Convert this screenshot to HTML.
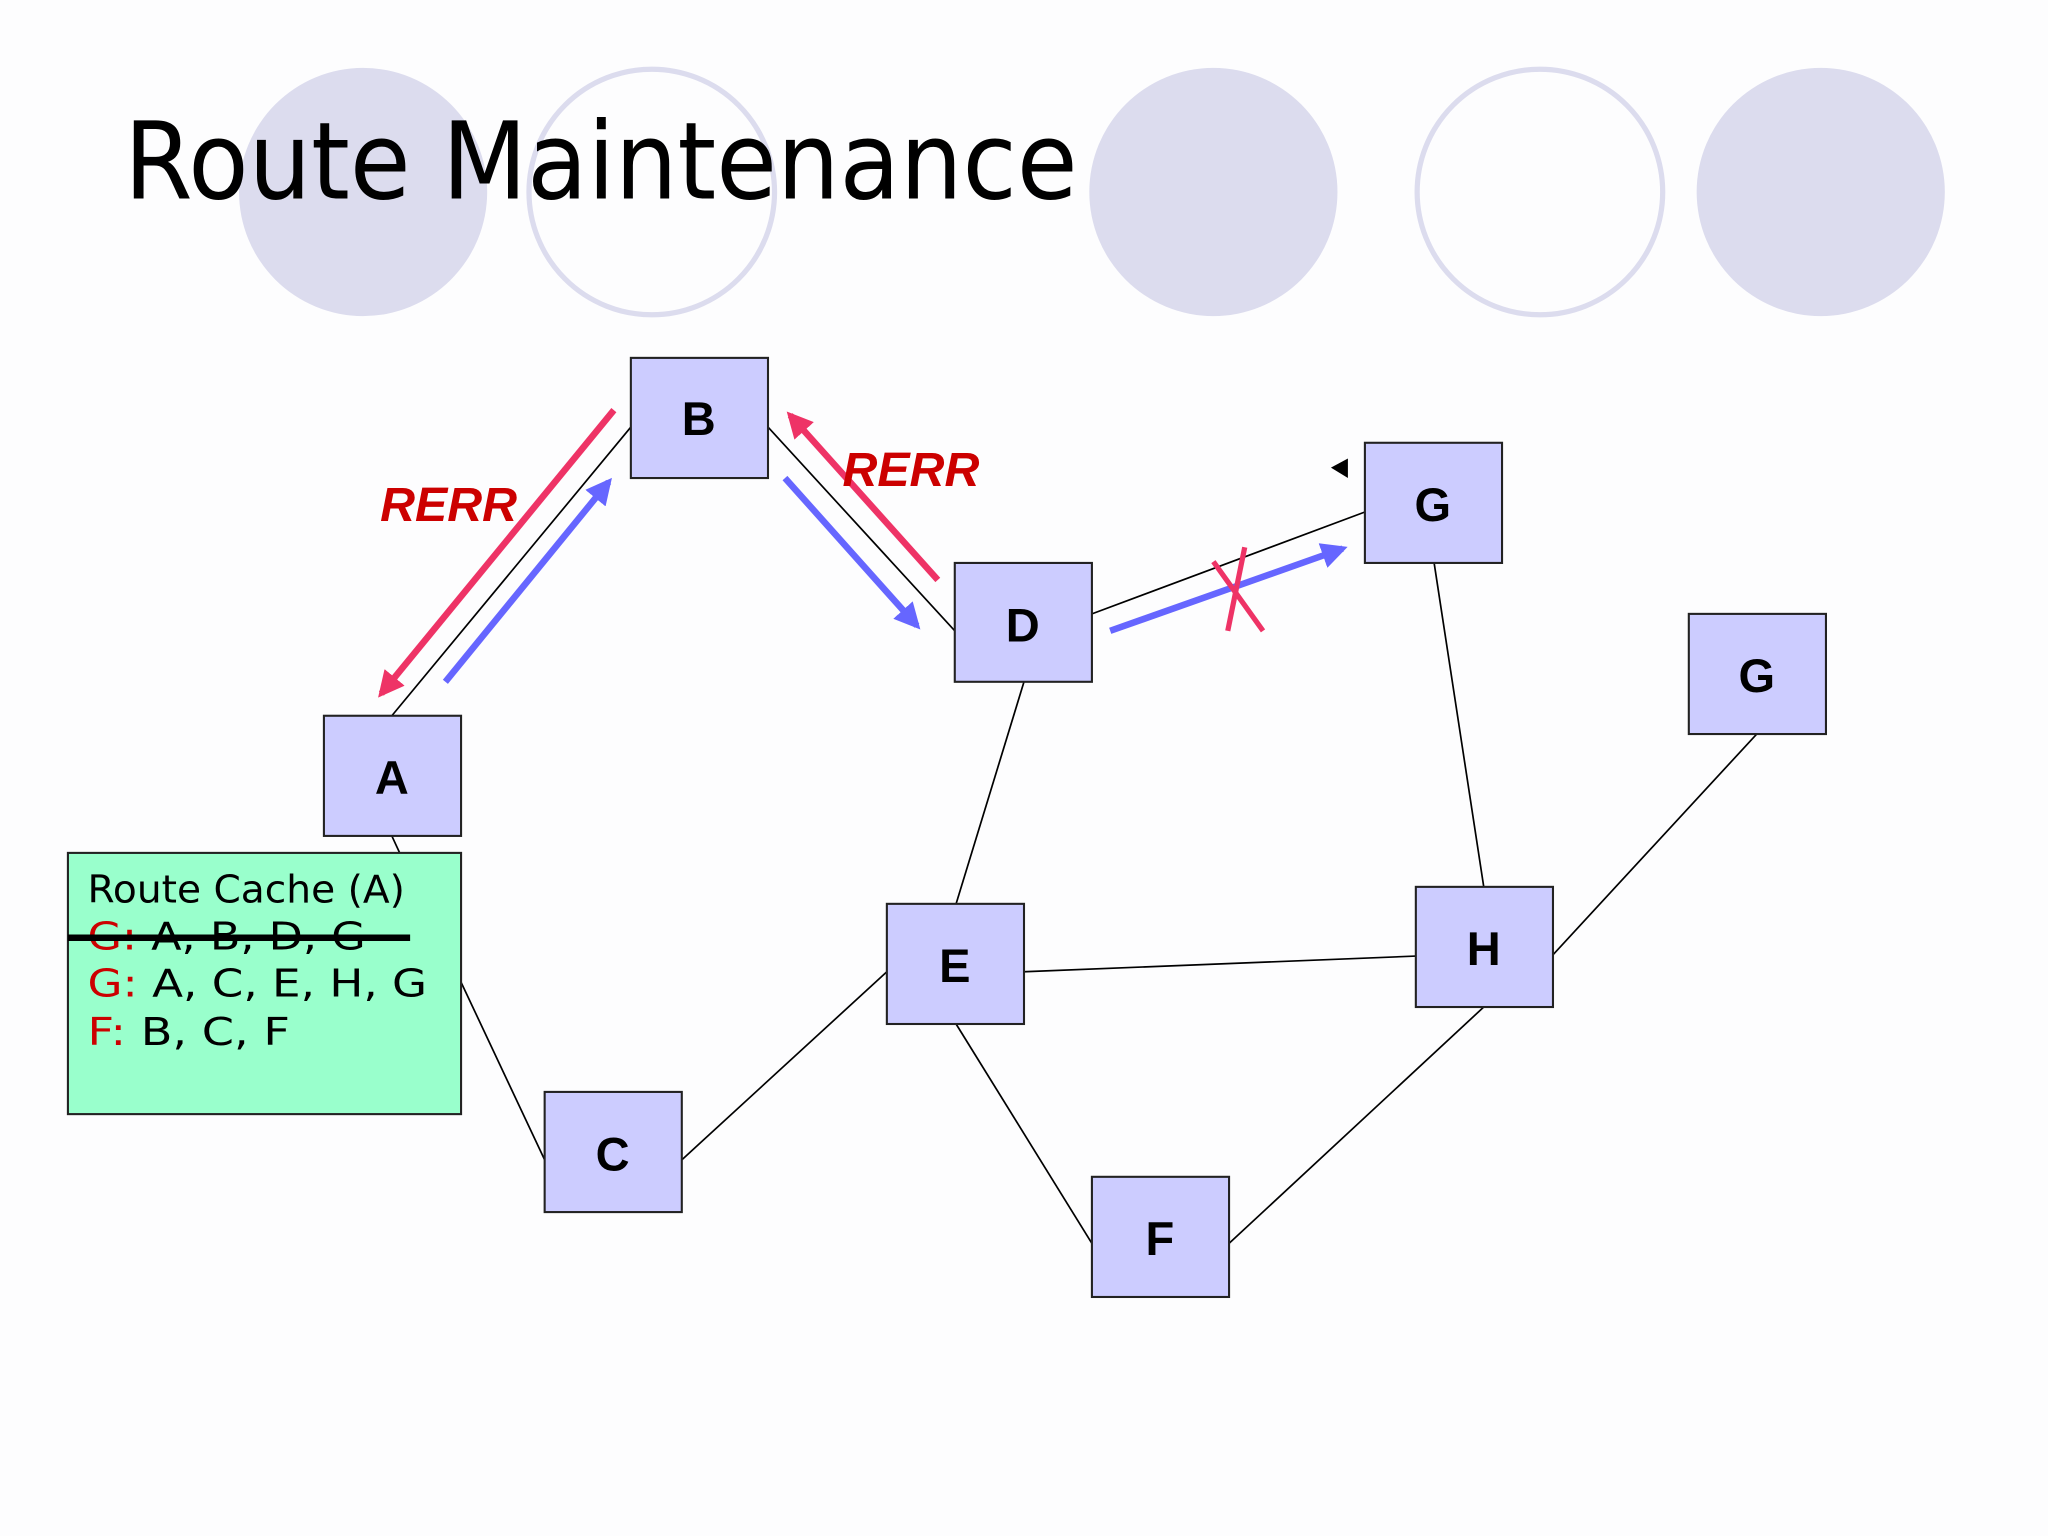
<!DOCTYPE html>
<html><head><meta charset="utf-8"><style>
html,body{margin:0;padding:0;background:#fdfdfe;}
svg{display:block}
.n{fill:#ccccff;stroke:#222;stroke-width:1.6}
.l{font-family:"Liberation Sans",Arial,sans-serif;font-weight:bold;font-size:36px;text-anchor:middle;fill:#000}
.e{stroke:#000;stroke-width:1.3;fill:none}
.c{font-family:"Comic Sans MS","DejaVu Sans",sans-serif;font-size:29px;fill:#000}
</style></head><body>
<svg width="2048" height="1536" viewBox="0 0 1568 1176" preserveAspectRatio="none" xmlns="http://www.w3.org/2000/svg">
<defs>
<marker id="ar" viewBox="0 0 10 10" refX="8" refY="5" markerWidth="4" markerHeight="4" orient="auto"><path d="M0,0L10,5L0,10z" fill="#ee3366"/></marker>
<marker id="ab" viewBox="0 0 10 10" refX="8" refY="5" markerWidth="4" markerHeight="4" orient="auto"><path d="M0,0L10,5L0,10z" fill="#6666ff"/></marker>
</defs>
<rect width="1568" height="1176" fill="#fdfdfe"/>
<circle cx="278" cy="147" r="95" fill="#dcdcee"/>
<circle cx="499" cy="147" r="94" fill="none" stroke="#dcdcee" stroke-width="4"/>
<circle cx="929" cy="147" r="95" fill="#dcdcee"/>
<circle cx="1179" cy="147" r="94" fill="none" stroke="#dcdcee" stroke-width="4"/>
<circle cx="1394" cy="147" r="95" fill="#dcdcee"/>
<text x="95" y="152" font-family="'Comic Sans MS','DejaVu Sans',sans-serif" font-size="82" textLength="730" lengthAdjust="spacingAndGlyphs" fill="#000">Route Maintenance</text>

<line class="e" x1="300" y1="548" x2="483" y2="327"/>
<line class="e" x1="588" y1="327" x2="731" y2="483"/>
<line class="e" x1="836" y1="470" x2="1045" y2="392"/>
<line class="e" x1="1098" y1="431" x2="1136" y2="679"/>
<line class="e" x1="1345" y1="562" x2="1189" y2="731"/>
<line class="e" x1="784" y1="522" x2="732" y2="692"/>
<line class="e" x1="784" y1="744" x2="1084" y2="732"/>
<line class="e" x1="732" y1="784" x2="836" y2="952"/>
<line class="e" x1="941" y1="952" x2="1136" y2="771"/>
<line class="e" x1="522" y1="888" x2="679" y2="744"/>
<line class="e" x1="300" y1="640" x2="306" y2="653"/>
<line class="e" x1="353" y1="752" x2="417" y2="888"/>

<line x1="470" y1="314" x2="292" y2="531" stroke="#ee3366" stroke-width="5" marker-end="url(#ar)"/>
<line x1="341" y1="522" x2="466" y2="369" stroke="#6666ff" stroke-width="5" marker-end="url(#ab)"/>
<line x1="718" y1="444" x2="605" y2="318" stroke="#ee3366" stroke-width="5" marker-end="url(#ar)"/>
<line x1="601" y1="366" x2="702" y2="479" stroke="#6666ff" stroke-width="5" marker-end="url(#ab)"/>
<line x1="850" y1="483" x2="1028" y2="420" stroke="#6666ff" stroke-width="5" marker-end="url(#ab)"/>
<line x1="929" y1="430" x2="967" y2="483" stroke="#ee3366" stroke-width="4"/>
<line x1="953" y1="419" x2="940" y2="483" stroke="#ee3366" stroke-width="4"/>
<path d="M1032,351 L1019,358 L1032,366z" fill="#000"/>

<text x="291" y="399" font-family="'Liberation Sans',Arial,sans-serif" font-weight="bold" font-style="italic" font-size="37" fill="#cc0000">RERR</text>
<text x="645" y="372" font-family="'Liberation Sans',Arial,sans-serif" font-weight="bold" font-style="italic" font-size="37" fill="#cc0000">RERR</text>

<rect class="n" x="483" y="274" width="105" height="92"/><text class="l" x="535" y="333">B</text>
<rect class="n" x="248" y="548" width="105" height="92"/><text class="l" x="300" y="608">A</text>
<rect class="n" x="731" y="431" width="105" height="91"/><text class="l" x="783" y="491">D</text>
<rect class="n" x="1045" y="339" width="105" height="92"/><text class="l" x="1097" y="399">G</text>
<rect class="n" x="1293" y="470" width="105" height="92"/><text class="l" x="1345" y="530">G</text>
<rect class="n" x="679" y="692" width="105" height="92"/><text class="l" x="731" y="752">E</text>
<rect class="n" x="1084" y="679" width="105" height="92"/><text class="l" x="1136" y="739">H</text>
<rect class="n" x="417" y="836" width="105" height="92"/><text class="l" x="469" y="896">C</text>
<rect class="n" x="836" y="901" width="105" height="92"/><text class="l" x="888" y="961">F</text>

<rect x="52" y="653" width="301" height="200" fill="#99ffcc" stroke="#222" stroke-width="1.6"/>
<text class="c" x="67" y="691" textLength="243" lengthAdjust="spacingAndGlyphs">Route Cache (A)</text>
<text class="c" x="67" y="727" textLength="213" lengthAdjust="spacingAndGlyphs"><tspan fill="#cc0000">G:</tspan> A, B, D, G</text>
<line x1="52" y1="718" x2="314" y2="718" stroke="#000" stroke-width="5"/>
<text class="c" x="67" y="763" textLength="260" lengthAdjust="spacingAndGlyphs"><tspan fill="#cc0000">G:</tspan> A, C, E, H, G</text>
<text class="c" x="67" y="800" textLength="155" lengthAdjust="spacingAndGlyphs"><tspan fill="#cc0000">F:</tspan> B, C, F</text>
</svg>
</body></html>
